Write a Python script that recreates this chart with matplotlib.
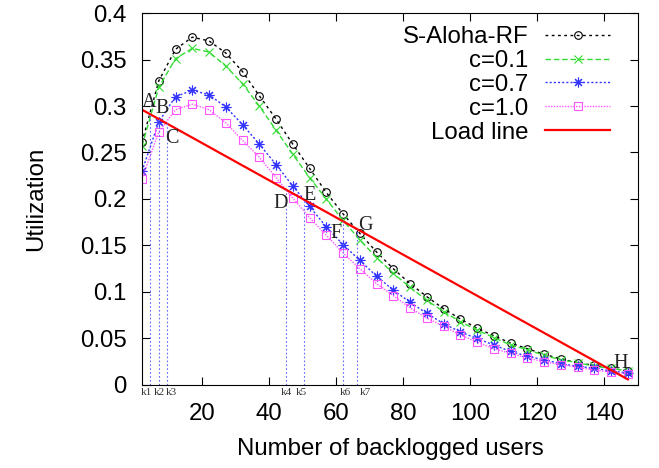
import matplotlib
matplotlib.use("Agg")
import matplotlib.pyplot as plt
import numpy as np

plt.rcParams['font.family'] = ['Liberation Sans', 'DejaVu Sans']

# Datos
usuarios = np.arange(2, 148, 5)
s_aloha_rf = [0.261, 0.327, 0.361, 0.374, 0.370, 0.357, 0.337, 0.311, 0.286, 0.259,
              0.233, 0.207, 0.184, 0.163, 0.143, 0.125, 0.109, 0.095, 0.082, 0.071,
              0.061, 0.053, 0.045, 0.039, 0.033, 0.028, 0.024, 0.021, 0.018, 0.015]
c01 = [0.257, 0.320, 0.351, 0.362, 0.358, 0.343, 0.324, 0.300, 0.274, 0.248,
       0.223, 0.200, 0.177, 0.156, 0.137, 0.120, 0.105, 0.091, 0.079, 0.068,
       0.059, 0.051, 0.043, 0.038, 0.032, 0.027, 0.024, 0.020, 0.018, 0.015]
c07 = [0.230, 0.283, 0.310, 0.317, 0.312, 0.299, 0.280, 0.259, 0.237, 0.214,
       0.192, 0.170, 0.151, 0.134, 0.117, 0.102, 0.089, 0.077, 0.066, 0.057,
       0.050, 0.043, 0.036, 0.031, 0.027, 0.023, 0.020, 0.018, 0.015, 0.013]
c10 = [0.222, 0.272, 0.296, 0.302, 0.296, 0.282, 0.263, 0.245, 0.223, 0.201,
       0.180, 0.161, 0.142, 0.125, 0.109, 0.096, 0.083, 0.072, 0.063, 0.054,
       0.046, 0.039, 0.034, 0.029, 0.025, 0.022, 0.019, 0.016, 0.014, 0.012]

# Recta de carga
carga_x = [2, 147]
carga_y = [0.296, 0.006]

# Puntos de equilibrio k1..k7
k_pos = [4.4, 7.0, 9.4, 44.9, 50.2, 61.9, 66.1]
k_nombres = ['k1', 'k2', 'k3', 'k4', 'k5', 'k6', 'k7']
k_texto_x = [3.2, 7.3, 10.7, 45.0, 49.6, 62.8, 68.8]

# Etiquetas A..H
letras = ['A', 'B', 'C', 'D', 'E', 'F', 'G', 'H']
letras_x = [2.0, 5.9, 8.9, 41.1, 50.1, 58.1, 66.5, 142.6]
letras_y = [0.299, 0.2925, 0.260, 0.190, 0.199, 0.158, 0.1667, 0.0183]

fig = plt.figure(figsize=(6.59, 4.68), dpi=100)
ax = fig.add_axes([0.2155, 0.1774, 0.7525, 0.7948])

ax.plot(usuarios, s_aloha_rf, color='black', linestyle=(0, (2, 2.5)), linewidth=1,
        marker='o', markersize=5.5, markerfacecolor='none', markeredgewidth=0.8, label='S-Aloha-RF')
ax.plot(usuarios, c01, color='#33dd33', linestyle=(0, (4, 2)), linewidth=1,
        marker='x', markersize=6, markeredgewidth=0.8, label='c=0.1')
ax.plot(usuarios, c07, color='#3333ff', linestyle=(0, (1.5, 1.5)), linewidth=1,
        marker=(8, 2, 0), markersize=7, markeredgewidth=0.8, label='c=0.7')
ax.plot(usuarios, c10, color='#ff55ff', linestyle=(0, (1, 1)), linewidth=1,
        marker='s', markersize=6, markerfacecolor='none', markeredgewidth=0.8, label='c=1.0')
ax.plot(carga_x, carga_y, color='red', linewidth=1.6, label='Load line')

# Líneas verticales hasta la recta de carga
pendiente = (carga_y[1] - carga_y[0]) / (carga_x[1] - carga_x[0])
for k in k_pos:
    y_top = carga_y[0] + pendiente * (k - carga_x[0])
    ax.plot([k, k], [0, y_top], color='#6666ff', linestyle=(0, (1.5, 2)), linewidth=0.8)

for xt, nombre in zip(k_texto_x, k_nombres):
    ax.text(xt, -0.008, nombre, transform=ax.get_xaxis_transform(), ha='center', va='top',
            fontsize=8, family=['Liberation Serif', 'DejaVu Serif'], color='#333333')

for l, lx, ly in zip(letras, letras_x, letras_y):
    ax.text(lx, ly, l, ha='left', va='baseline', fontsize=14.5,
            family=['Liberation Serif', 'DejaVu Serif'], color='#222222')

ax.set_xlim(2, 150)
ax.set_ylim(0, 0.4)
ax.set_xticks(np.arange(20, 141, 20))
ax.set_yticks(np.arange(0, 0.401, 0.05))
ax.set_yticklabels(['0', '0.05', '0.1', '0.15', '0.2', '0.25', '0.3', '0.35', '0.4'])
ax.tick_params(direction='in', top=True, right=True, length=6, labelsize=17.3)
ax.tick_params(axis='y', pad=11)
ax.tick_params(axis='x', pad=13)
ax.set_xlabel('Number of backlogged users', fontsize=17.3, labelpad=9)
ax.set_ylabel('Utilization', fontsize=17.3, labelpad=24)

ax.legend(loc='upper right', bbox_to_anchor=(0.943, 0.965), frameon=False, fontsize=17.3,
          markerfirst=False, handlelength=2.67, labelspacing=0.08, handletextpad=0.7,
          borderaxespad=0, borderpad=0)

fig.savefig('out.png', dpi=100)
